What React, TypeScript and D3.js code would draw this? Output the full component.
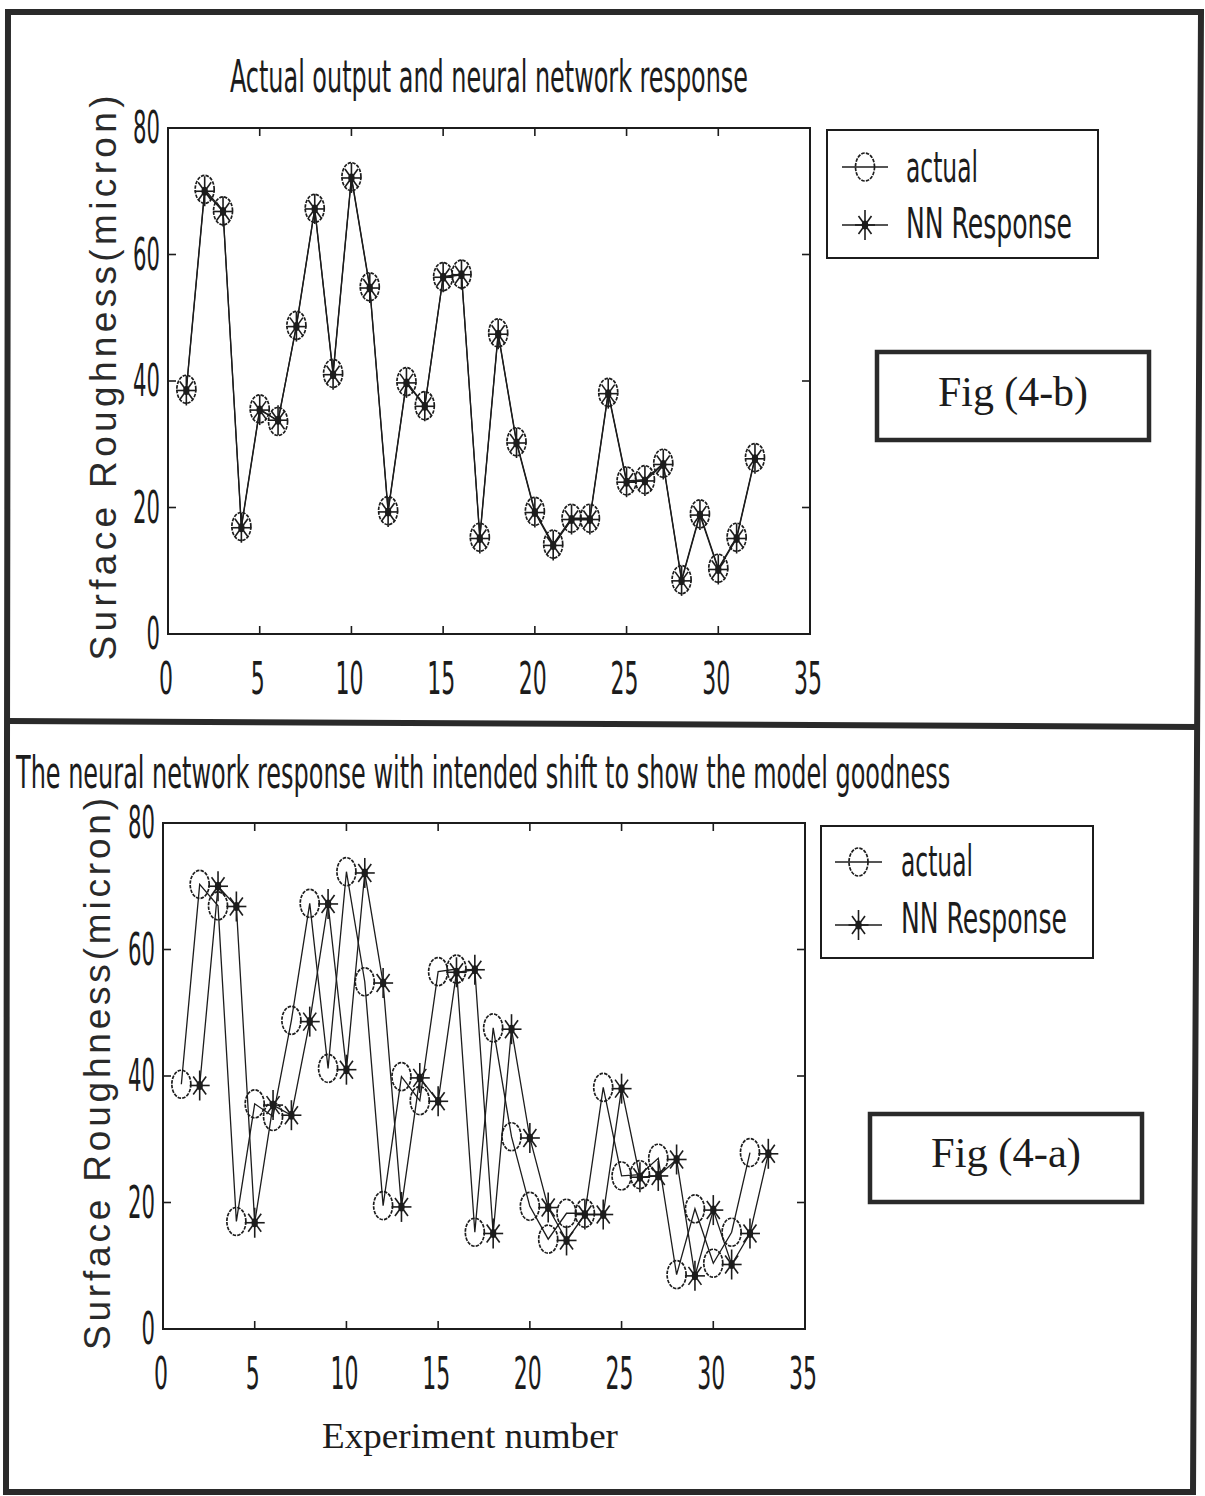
import React, { useLayoutEffect, useRef, useState } from "react";
import * as d3 from "d3";

// ---- data ----
const experiments = [1, 2, 3, 4, 5, 6, 7, 8, 9, 10, 11, 12, 13, 14, 15, 16, 17, 18, 19, 20, 21, 22, 23, 24, 25, 26, 27, 28, 29, 30, 31, 32];
const actual = [38.7, 70.3, 66.9, 17.0, 35.6, 33.6, 48.8, 67.3, 41.2, 72.3, 54.9, 19.5, 39.9, 36.1, 56.5, 56.9, 15.3, 47.6, 30.4, 19.4, 14.2, 18.3, 18.3, 38.2, 24.2, 24.4, 27.0, 8.6, 19.0, 10.4, 15.3, 27.9];
const nnResponse = [38.5, 70.0, 66.8, 16.8, 35.4, 33.8, 48.6, 67.2, 41.0, 72.1, 54.7, 19.3, 39.7, 36.0, 56.4, 56.8, 15.1, 47.4, 30.2, 19.2, 14.0, 18.1, 18.1, 38.0, 24.0, 24.2, 26.8, 8.4, 18.8, 10.2, 15.1, 27.7];
const intendedShift = 1;
const xTicks = [0, 5, 10, 15, 20, 25, 30, 35];
const yTicks = [0, 20, 40, 60, 80];
const seriesNames = ["actual", "NN Response"];
const titles = [
  "Actual output and neural network response",
  "The neural network response with intended shift to show the model goodness",
];
const figLabels = ["Fig (4-b)", "Fig (4-a)"];
const yLabel = "Surface Roughness(micron)";
const xLabel = "Experiment number";

const INK = "#1c1c1c";
const NARROW = "'Liberation Sans Narrow','Arial Narrow','DejaVu Sans Condensed','Liberation Sans',sans-serif";
const SANS = "'Liberation Sans',Arial,sans-serif";
const SERIF = "'Liberation Serif','Times New Roman',serif";

// Text squeezed horizontally to a given width (condensed look of the scan)
function FitText({ x, y, width, fontSize, family, anchor = "start", children }: { x: number; y: number; width: number; fontSize: number; family: string; anchor?: string; children: React.ReactNode }) {
  const ref = useRef<SVGTextElement>(null);
  const [s, setS] = useState(0.6);
  useLayoutEffect(() => {
    if (ref.current) {
      const w = ref.current.getComputedTextLength();
      if (w > 0) setS(width / w);
    }
  }, [width]);
  return (
    <g transform={`translate(${x},${y}) scale(${s},1)`}>
      <text ref={ref} x={0} y={0} textAnchor={anchor} fontFamily={family} fontSize={fontSize} fill={INK}>{children}</text>
    </g>
  );
}

function Circle({ x, y }: { x: number; y: number }) {
  return <ellipse cx={x} cy={y} rx={9.5} ry={14} fill="none" stroke={INK} strokeWidth={1.7} strokeDasharray="3.5 1.2" />;
}

function Star({ x, y }: { x: number; y: number }) {
  return (
    <g stroke={INK} strokeWidth={1.6}>
      <line x1={x} y1={y - 15} x2={x} y2={y + 15} />
      <line x1={x - 10} y1={y} x2={x + 10} y2={y} />
      <line x1={x - 6.5} y1={y - 9} x2={x + 6.5} y2={y + 9} />
      <line x1={x - 6.5} y1={y + 9} x2={x + 6.5} y2={y - 9} />
      <ellipse cx={x} cy={y} rx={3.2} ry={4.5} fill={INK} stroke="none" />
    </g>
  );
}

type PanelProps = {
  left: number; right: number; top: number; bottom: number;
  shift: number;
  title: string; titleX: number; titleBase: number; titleLen: number;
  yLabelX: number; yLabelY: number; yLabelLen: number;
  legend: { x0: number; y0: number; x1: number; y1: number; textX: number; base1: number; base2: number; lineX0: number; lineX1: number; ly1: number; ly2: number };
  fig: { x0: number; y0: number; x1: number; y1: number; label: string; base: number };
};

function Panel(p: PanelProps) {
  const x = d3.scaleLinear().domain([0, 35]).range([p.left, p.right]);
  const y = d3.scaleLinear().domain([0, 80]).range([p.bottom, p.top]);
  const actualPts: [number, number][] = experiments.map((e, i) => [x(e), y(actual[i])]);
  const nnPts: [number, number][] = experiments.map((e, i) => [x(e + p.shift), y(nnResponse[i])]);
  const line = d3.line();
  const tickLen = 8;
  const L = p.legend;
  const midLegend = (L.lineX0 + L.lineX1) / 2;
  return (
    <g>
      {/* title */}
      <FitText x={p.titleX} y={p.titleBase} width={p.titleLen} fontSize={44} family={NARROW}>{p.title}</FitText>
      {/* y label */}
      <text transform={`translate(${p.yLabelX},${p.yLabelY}) rotate(-90)`} textAnchor="middle" fontFamily={SANS} fontSize={37} fill="#2a2a2a" textLength={p.yLabelLen} lengthAdjust="spacing">{yLabel}</text>
      {/* frame */}
      <rect x={p.left} y={p.top} width={p.right - p.left} height={p.bottom - p.top} fill="none" stroke={INK} strokeWidth={2} />
      {/* ticks */}
      {xTicks.slice(1, -1).map((t) => (
        <g key={"xt" + t} stroke={INK} strokeWidth={1.6}>
          <line x1={x(t)} x2={x(t)} y1={p.bottom} y2={p.bottom - tickLen} />
          <line x1={x(t)} x2={x(t)} y1={p.top} y2={p.top + tickLen} />
        </g>
      ))}
      {yTicks.slice(1, -1).map((t) => (
        <g key={"yt" + t} stroke={INK} strokeWidth={1.6}>
          <line x1={p.left} x2={p.left + tickLen} y1={y(t)} y2={y(t)} />
          <line x1={p.right} x2={p.right - tickLen} y1={y(t)} y2={y(t)} />
        </g>
      ))}
      {xTicks.map((t) => (
        <FitText key={"xl" + t} x={x(t) - 2} y={p.bottom + 60} width={String(t).length * 14} anchor="middle" fontSize={44} family={NARROW}>{t}</FitText>
      ))}
      {yTicks.map((t) => (
        <FitText key={"yl" + t} x={p.left - 8} y={y(t) + 15} width={String(t).length * 13.5} anchor="end" fontSize={44} family={NARROW}>{t}</FitText>
      ))}
      {/* lines */}
      <path d={line(actualPts) || ""} fill="none" stroke={INK} strokeWidth={1.3} />
      <path d={line(nnPts) || ""} fill="none" stroke={INK} strokeWidth={1.3} />
      {actualPts.map(([px, py], i) => <Circle key={"c" + i} x={px} y={py} />)}
      {nnPts.map(([px, py], i) => <Star key={"s" + i} x={px} y={py} />)}
      {/* legend */}
      <rect x={L.x0} y={L.y0} width={L.x1 - L.x0} height={L.y1 - L.y0} fill="#fff" stroke={INK} strokeWidth={2} />
      <line x1={L.lineX0} x2={L.lineX1} y1={L.ly1} y2={L.ly1} stroke={INK} strokeWidth={1.6} />
      <Circle x={midLegend} y={L.ly1} />
      <line x1={L.lineX0} x2={L.lineX1} y1={L.ly2} y2={L.ly2} stroke={INK} strokeWidth={1.6} />
      <Star x={midLegend} y={L.ly2} />
      <FitText x={L.textX} y={L.base1} width={72} fontSize={42} family={NARROW}>{seriesNames[0]}</FitText>
      <FitText x={L.textX} y={L.base2} width={166} fontSize={42} family={NARROW}>{seriesNames[1]}</FitText>
      {/* figure label */}
      <rect x={p.fig.x0} y={p.fig.y0} width={p.fig.x1 - p.fig.x0} height={p.fig.y1 - p.fig.y0} fill="none" stroke="#2a2a2a" strokeWidth={4.5} />
      <text x={(p.fig.x0 + p.fig.x1) / 2} y={p.fig.base} textAnchor="middle" fontFamily={SERIF} fontSize={42} fill={INK} textLength={150} lengthAdjust="spacingAndGlyphs">{p.fig.label}</text>
    </g>
  );
}

export default function App() {
  return (
    <svg width={1205} height={1496} viewBox="0 0 1205 1496" style={{ position: "absolute", left: 0, top: 0, background: "#fff" }}>
      <rect x={0} y={0} width={1205} height={1496} fill="#fff" />
      {/* outer frame */}
      <path d="M8,12 L1201,12 L1193,1492 L6,1492 Z" fill="none" stroke="#2a2a2a" strokeWidth={6} />
      <line x1={8} y1={721} x2={1198} y2={727} stroke="#2a2a2a" strokeWidth={6} />
      <Panel
        left={168} right={810} top={128} bottom={634} shift={0}
        title={titles[0]} titleX={230} titleBase={92} titleLen={518}
        yLabelX={116} yLabelY={378} yLabelLen={565}
        legend={{ x0: 827, y0: 130, x1: 1098, y1: 258, textX: 906, base1: 182, base2: 238, lineX0: 842, lineX1: 888, ly1: 167, ly2: 225 }}
        fig={{ x0: 877, y0: 352, x1: 1149, y1: 440, label: figLabels[0], base: 406 }}
      />
      <Panel
        left={163} right={805} top={823} bottom={1329} shift={intendedShift}
        title={titles[1]} titleX={16} titleBase={788} titleLen={934}
        yLabelX={110} yLabelY={1074} yLabelLen={552}
        legend={{ x0: 821, y0: 826, x1: 1093, y1: 958, textX: 901, base1: 876, base2: 933, lineX0: 835, lineX1: 882, ly1: 862, ly2: 925 }}
        fig={{ x0: 870, y0: 1114, x1: 1142, y1: 1202, label: figLabels[1], base: 1167 }}
      />
      <text x={322} y={1448} fontFamily={SERIF} fontSize={36} fill={INK} textLength={296} lengthAdjust="spacingAndGlyphs">{xLabel}</text>
    </svg>
  );
}
